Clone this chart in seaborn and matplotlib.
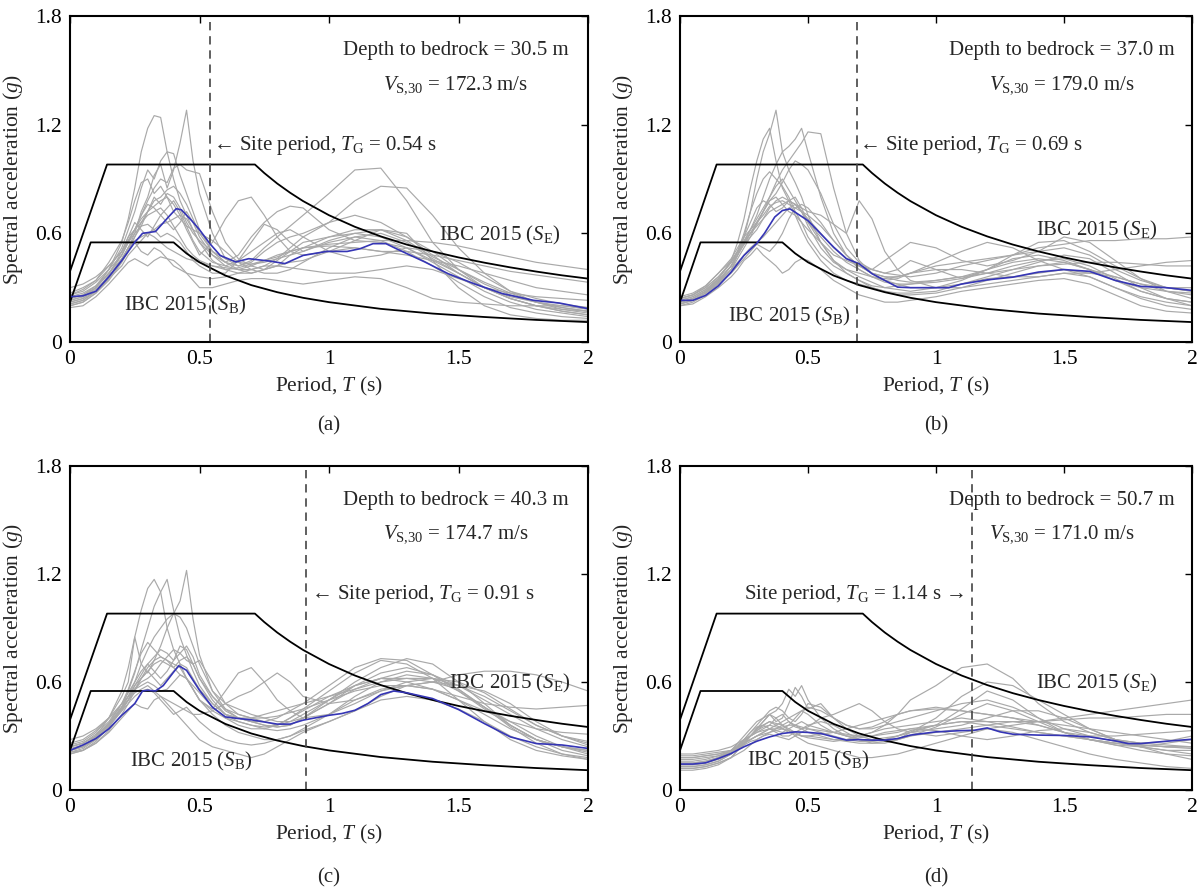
import numpy as np
import pandas as pd
import matplotlib
matplotlib.use("Agg")
import matplotlib.pyplot as plt
import seaborn as sns

# ---------------- data ----------------
T_GRID = [0, 0.05, 0.1, 0.15, 0.2, 0.225, 0.25, 0.275, 0.3, 0.325, 0.35, 0.375, 0.4,
          0.425, 0.45, 0.475, 0.5, 0.55, 0.6, 0.65, 0.7, 0.75, 0.8, 0.85, 0.9, 1.0,
          1.1, 1.2, 1.3, 1.4, 1.5, 1.6, 1.7, 1.8, 1.9, 2.0]

GREY_A = [
    [0.22,0.24,0.30,0.40,0.55,0.68,0.85,1.05,1.18,1.25,1.24,1.05,0.90,0.78,0.70,0.62,0.55,0.48,0.44,0.42,0.45,0.52,0.58,0.64,0.70,0.82,0.95,0.96,0.78,0.55,0.40,0.30,0.24,0.20,0.17,0.15],
    [0.20,0.22,0.27,0.35,0.45,0.52,0.60,0.72,0.80,0.92,0.98,0.85,0.95,1.10,1.28,1.00,0.82,0.60,0.46,0.42,0.44,0.50,0.55,0.58,0.60,0.66,0.78,0.86,0.85,0.70,0.52,0.38,0.28,0.22,0.18,0.16],
    [0.24,0.26,0.31,0.40,0.52,0.62,0.72,0.85,0.95,0.90,1.00,1.05,1.04,0.92,0.82,0.72,0.62,0.50,0.44,0.48,0.58,0.66,0.72,0.75,0.74,0.62,0.56,0.55,0.52,0.45,0.38,0.30,0.25,0.22,0.20,0.18],
    [0.26,0.28,0.33,0.40,0.48,0.56,0.62,0.70,0.78,0.85,0.90,0.88,0.96,0.98,0.95,0.94,0.93,0.72,0.55,0.46,0.42,0.40,0.42,0.48,0.52,0.58,0.60,0.62,0.58,0.50,0.40,0.32,0.26,0.22,0.19,0.17],
    [0.23,0.25,0.29,0.36,0.45,0.52,0.58,0.66,0.72,0.78,0.80,0.84,0.86,0.82,0.76,0.68,0.60,0.50,0.44,0.40,0.38,0.40,0.45,0.50,0.55,0.58,0.62,0.62,0.56,0.47,0.40,0.33,0.27,0.22,0.19,0.17],
    [0.27,0.30,0.34,0.42,0.50,0.58,0.62,0.68,0.72,0.75,0.78,0.80,0.76,0.70,0.62,0.55,0.48,0.55,0.68,0.78,0.80,0.70,0.58,0.50,0.48,0.50,0.52,0.50,0.48,0.45,0.42,0.38,0.34,0.30,0.28,0.26],
    [0.30,0.32,0.36,0.42,0.50,0.56,0.62,0.66,0.70,0.72,0.74,0.70,0.64,0.58,0.52,0.48,0.45,0.42,0.40,0.41,0.43,0.45,0.47,0.50,0.52,0.54,0.55,0.56,0.56,0.55,0.53,0.50,0.47,0.44,0.42,0.40],
    [0.25,0.27,0.31,0.38,0.46,0.52,0.56,0.58,0.60,0.58,0.55,0.52,0.50,0.48,0.46,0.45,0.44,0.42,0.41,0.40,0.42,0.45,0.48,0.50,0.52,0.53,0.52,0.50,0.50,0.48,0.45,0.42,0.39,0.37,0.35,0.33],
    [0.21,0.23,0.28,0.36,0.46,0.52,0.55,0.50,0.48,0.52,0.50,0.46,0.42,0.40,0.38,0.37,0.36,0.35,0.36,0.38,0.40,0.42,0.42,0.41,0.40,0.38,0.38,0.40,0.42,0.40,0.35,0.30,0.27,0.25,0.24,0.23],
    [0.19,0.20,0.25,0.32,0.40,0.44,0.46,0.44,0.42,0.45,0.47,0.46,0.45,0.42,0.38,0.34,0.30,0.30,0.32,0.34,0.35,0.35,0.34,0.33,0.32,0.34,0.36,0.35,0.30,0.24,0.22,0.21,0.20,0.20,0.20,0.19],
    [0.22,0.24,0.28,0.35,0.42,0.48,0.52,0.56,0.60,0.62,0.65,0.66,0.68,0.70,0.68,0.62,0.55,0.45,0.40,0.38,0.38,0.40,0.42,0.44,0.45,0.50,0.56,0.62,0.60,0.45,0.30,0.20,0.15,0.13,0.12,0.12],
    [0.24,0.26,0.30,0.38,0.48,0.55,0.60,0.64,0.65,0.62,0.58,0.60,0.58,0.55,0.50,0.45,0.42,0.38,0.38,0.45,0.55,0.65,0.62,0.55,0.50,0.55,0.58,0.56,0.50,0.42,0.33,0.25,0.19,0.16,0.14,0.13],
    [0.26,0.29,0.34,0.44,0.56,0.66,0.78,0.88,0.90,0.82,0.86,0.80,0.72,0.68,0.64,0.62,0.60,0.56,0.50,0.44,0.40,0.38,0.38,0.40,0.44,0.52,0.58,0.60,0.55,0.46,0.38,0.30,0.24,0.20,0.17,0.15],
    [0.20,0.22,0.27,0.34,0.44,0.50,0.58,0.64,0.72,0.80,0.76,0.82,0.80,0.74,0.66,0.60,0.56,0.50,0.46,0.44,0.43,0.44,0.46,0.48,0.50,0.56,0.60,0.58,0.52,0.44,0.36,0.28,0.22,0.18,0.16,0.14],
    [0.23,0.25,0.30,0.38,0.48,0.55,0.62,0.70,0.76,0.74,0.70,0.74,0.78,0.72,0.64,0.56,0.50,0.44,0.42,0.45,0.50,0.55,0.60,0.62,0.58,0.50,0.46,0.48,0.52,0.50,0.44,0.36,0.28,0.24,0.21,0.19],
    [0.21,0.23,0.28,0.37,0.50,0.58,0.66,0.62,0.58,0.64,0.70,0.66,0.62,0.66,0.72,0.66,0.58,0.48,0.42,0.40,0.40,0.42,0.46,0.52,0.58,0.66,0.70,0.66,0.58,0.48,0.38,0.30,0.24,0.20,0.18,0.17],
]

GREY_B = [
    [0.22,0.24,0.28,0.35,0.45,0.55,0.68,0.85,1.00,1.12,1.18,1.00,0.85,0.78,0.70,0.62,0.55,0.45,0.38,0.34,0.32,0.30,0.28,0.27,0.27,0.28,0.32,0.35,0.36,0.38,0.40,0.36,0.30,0.25,0.22,0.20],
    [0.20,0.22,0.26,0.32,0.40,0.48,0.58,0.72,0.90,1.05,1.15,1.28,1.05,0.95,0.88,0.80,0.70,0.55,0.45,0.38,0.34,0.30,0.28,0.26,0.26,0.27,0.30,0.34,0.38,0.42,0.44,0.40,0.34,0.28,0.24,0.22],
    [0.24,0.26,0.30,0.36,0.44,0.50,0.55,0.62,0.70,0.80,0.90,0.98,1.05,1.08,1.12,1.18,1.05,0.80,0.60,0.48,0.40,0.36,0.33,0.32,0.32,0.33,0.35,0.38,0.42,0.45,0.46,0.42,0.35,0.28,0.24,0.22],
    [0.21,0.23,0.27,0.33,0.40,0.46,0.52,0.58,0.66,0.72,0.80,0.88,0.95,1.00,1.05,1.10,1.16,1.15,0.85,0.60,0.45,0.38,0.34,0.32,0.30,0.30,0.32,0.36,0.40,0.44,0.48,0.46,0.38,0.30,0.24,0.20],
    [0.23,0.25,0.29,0.34,0.42,0.48,0.55,0.60,0.65,0.72,0.78,0.82,0.88,0.95,1.00,0.98,0.95,0.82,0.65,0.52,0.44,0.40,0.38,0.40,0.45,0.40,0.35,0.40,0.48,0.55,0.56,0.50,0.42,0.35,0.30,0.28],
    [0.25,0.27,0.31,0.38,0.45,0.50,0.54,0.58,0.62,0.68,0.74,0.78,0.80,0.78,0.76,0.74,0.72,0.70,0.65,0.60,0.78,0.68,0.50,0.40,0.34,0.30,0.30,0.32,0.34,0.36,0.38,0.38,0.36,0.32,0.28,0.26],
    [0.22,0.24,0.28,0.34,0.42,0.48,0.54,0.60,0.66,0.70,0.75,0.77,0.78,0.76,0.74,0.72,0.68,0.60,0.52,0.46,0.42,0.40,0.38,0.37,0.36,0.38,0.42,0.45,0.48,0.52,0.54,0.56,0.56,0.57,0.57,0.58],
    [0.20,0.21,0.25,0.30,0.36,0.40,0.45,0.48,0.52,0.48,0.45,0.42,0.38,0.40,0.44,0.46,0.45,0.40,0.34,0.30,0.26,0.24,0.22,0.22,0.23,0.25,0.28,0.30,0.32,0.34,0.35,0.32,0.26,0.20,0.17,0.16],
    [0.24,0.26,0.31,0.38,0.46,0.52,0.58,0.62,0.66,0.72,0.78,0.80,0.76,0.72,0.70,0.66,0.62,0.55,0.48,0.45,0.42,0.40,0.45,0.50,0.55,0.52,0.45,0.42,0.45,0.50,0.58,0.55,0.45,0.35,0.28,0.24],
    [0.22,0.24,0.28,0.33,0.40,0.44,0.48,0.52,0.55,0.58,0.62,0.66,0.70,0.74,0.76,0.72,0.66,0.58,0.50,0.44,0.40,0.36,0.34,0.35,0.38,0.44,0.50,0.55,0.52,0.45,0.40,0.38,0.40,0.42,0.44,0.45],
    [0.23,0.25,0.29,0.35,0.44,0.50,0.58,0.66,0.74,0.78,0.76,0.72,0.74,0.78,0.80,0.74,0.66,0.55,0.45,0.40,0.36,0.33,0.30,0.29,0.28,0.30,0.34,0.40,0.46,0.48,0.45,0.40,0.34,0.30,0.28,0.27],
    [0.21,0.23,0.27,0.33,0.42,0.50,0.60,0.72,0.82,0.90,0.94,0.90,0.86,0.80,0.72,0.66,0.58,0.48,0.42,0.38,0.34,0.31,0.30,0.31,0.32,0.34,0.36,0.38,0.40,0.42,0.43,0.44,0.44,0.43,0.42,0.42],
    [0.22,0.24,0.28,0.34,0.42,0.48,0.54,0.60,0.64,0.68,0.72,0.74,0.76,0.78,0.76,0.72,0.70,0.64,0.56,0.48,0.42,0.38,0.36,0.36,0.38,0.40,0.40,0.38,0.36,0.36,0.38,0.36,0.30,0.24,0.20,0.18],
    [0.24,0.26,0.30,0.36,0.44,0.50,0.56,0.62,0.68,0.74,0.80,0.86,0.90,0.84,0.78,0.72,0.64,0.52,0.44,0.40,0.38,0.36,0.35,0.36,0.38,0.42,0.44,0.46,0.48,0.50,0.52,0.48,0.40,0.34,0.30,0.28],
    [0.21,0.23,0.27,0.32,0.38,0.42,0.46,0.50,0.54,0.52,0.50,0.54,0.60,0.68,0.74,0.76,0.74,0.66,0.56,0.48,0.42,0.38,0.36,0.34,0.33,0.34,0.36,0.40,0.44,0.46,0.44,0.40,0.36,0.32,0.30,0.30],
]

GREY_C = [
    [0.22,0.24,0.30,0.40,0.55,0.68,0.85,1.00,1.12,1.17,1.10,0.90,0.78,0.70,0.62,0.56,0.50,0.44,0.40,0.38,0.36,0.35,0.36,0.40,0.45,0.55,0.65,0.72,0.70,0.62,0.50,0.38,0.28,0.22,0.19,0.17],
    [0.20,0.22,0.27,0.35,0.46,0.55,0.65,0.78,0.90,1.02,1.10,1.17,1.00,0.85,0.75,0.66,0.58,0.48,0.42,0.40,0.38,0.38,0.40,0.44,0.48,0.58,0.68,0.73,0.72,0.64,0.55,0.45,0.36,0.28,0.24,0.22],
    [0.24,0.26,0.31,0.38,0.48,0.54,0.60,0.70,0.78,0.85,0.90,0.95,0.98,1.05,1.22,0.95,0.75,0.55,0.45,0.40,0.38,0.36,0.35,0.36,0.40,0.50,0.60,0.68,0.73,0.70,0.60,0.48,0.36,0.28,0.24,0.21],
    [0.25,0.27,0.32,0.40,0.52,0.60,0.85,0.70,0.65,0.72,0.80,0.90,0.98,0.96,0.90,0.80,0.70,0.55,0.48,0.45,0.42,0.40,0.38,0.38,0.40,0.48,0.58,0.65,0.68,0.64,0.58,0.50,0.42,0.34,0.28,0.24],
    [0.22,0.24,0.29,0.36,0.45,0.50,0.56,0.60,0.62,0.65,0.70,0.74,0.78,0.76,0.72,0.70,0.72,0.60,0.48,0.42,0.40,0.38,0.36,0.38,0.42,0.50,0.58,0.62,0.62,0.60,0.58,0.55,0.48,0.38,0.30,0.25],
    [0.26,0.28,0.33,0.40,0.48,0.52,0.56,0.58,0.60,0.58,0.55,0.56,0.60,0.64,0.62,0.56,0.50,0.45,0.55,0.65,0.68,0.60,0.50,0.44,0.40,0.42,0.48,0.55,0.60,0.62,0.60,0.54,0.45,0.36,0.30,0.26],
    [0.28,0.30,0.34,0.40,0.46,0.50,0.54,0.56,0.58,0.55,0.52,0.50,0.48,0.46,0.44,0.42,0.42,0.44,0.48,0.52,0.55,0.60,0.65,0.60,0.52,0.48,0.50,0.55,0.58,0.60,0.64,0.66,0.66,0.64,0.60,0.55],
    [0.21,0.22,0.26,0.32,0.40,0.44,0.48,0.46,0.45,0.50,0.52,0.48,0.44,0.40,0.36,0.32,0.28,0.24,0.22,0.20,0.18,0.20,0.24,0.28,0.32,0.38,0.44,0.50,0.52,0.50,0.45,0.38,0.30,0.24,0.20,0.18],
    [0.23,0.25,0.29,0.36,0.44,0.48,0.52,0.55,0.56,0.54,0.50,0.46,0.42,0.44,0.46,0.42,0.38,0.32,0.28,0.26,0.25,0.26,0.28,0.30,0.34,0.42,0.52,0.60,0.64,0.62,0.55,0.46,0.38,0.30,0.24,0.20],
    [0.24,0.26,0.30,0.37,0.46,0.52,0.58,0.62,0.66,0.70,0.72,0.70,0.68,0.72,0.74,0.70,0.62,0.52,0.45,0.42,0.40,0.40,0.41,0.43,0.45,0.50,0.55,0.58,0.58,0.56,0.52,0.48,0.46,0.45,0.46,0.47],
    [0.20,0.22,0.26,0.33,0.42,0.48,0.55,0.62,0.68,0.72,0.74,0.72,0.70,0.68,0.62,0.56,0.50,0.42,0.36,0.32,0.30,0.28,0.28,0.30,0.33,0.38,0.44,0.52,0.58,0.60,0.56,0.46,0.35,0.26,0.20,0.17],
    [0.22,0.24,0.28,0.35,0.44,0.50,0.58,0.64,0.70,0.66,0.62,0.66,0.72,0.80,0.78,0.70,0.62,0.50,0.42,0.38,0.36,0.34,0.33,0.34,0.36,0.42,0.50,0.56,0.58,0.56,0.50,0.42,0.34,0.28,0.24,0.22],
    [0.21,0.23,0.28,0.36,0.46,0.52,0.60,0.66,0.70,0.74,0.78,0.76,0.72,0.76,0.80,0.74,0.64,0.52,0.44,0.40,0.38,0.36,0.35,0.36,0.40,0.48,0.56,0.62,0.66,0.64,0.56,0.46,0.36,0.28,0.22,0.19],
    [0.24,0.26,0.30,0.37,0.45,0.50,0.56,0.62,0.66,0.62,0.58,0.62,0.66,0.70,0.68,0.62,0.56,0.48,0.42,0.40,0.40,0.42,0.44,0.46,0.48,0.52,0.56,0.60,0.62,0.62,0.58,0.52,0.44,0.36,0.30,0.27],
    [0.22,0.24,0.29,0.37,0.48,0.56,0.66,0.76,0.82,0.78,0.74,0.72,0.68,0.64,0.62,0.58,0.54,0.46,0.40,0.36,0.34,0.34,0.36,0.40,0.44,0.52,0.58,0.62,0.60,0.56,0.50,0.44,0.38,0.34,0.32,0.31],
]

GREY_D = [
    [0.14,0.14,0.15,0.18,0.22,0.26,0.30,0.34,0.38,0.40,0.42,0.44,0.48,0.56,0.52,0.58,0.50,0.40,0.34,0.30,0.28,0.28,0.29,0.30,0.32,0.36,0.45,0.55,0.50,0.40,0.32,0.28,0.26,0.25,0.24,0.24],
    [0.12,0.12,0.13,0.15,0.18,0.22,0.25,0.30,0.34,0.38,0.42,0.38,0.40,0.48,0.57,0.52,0.45,0.48,0.40,0.34,0.30,0.28,0.27,0.28,0.30,0.35,0.42,0.48,0.44,0.38,0.32,0.28,0.25,0.22,0.20,0.19],
    [0.16,0.16,0.17,0.19,0.22,0.25,0.28,0.30,0.32,0.34,0.36,0.40,0.42,0.38,0.35,0.34,0.35,0.40,0.42,0.45,0.48,0.44,0.38,0.34,0.32,0.30,0.32,0.34,0.36,0.38,0.40,0.42,0.44,0.46,0.48,0.50],
    [0.18,0.18,0.19,0.20,0.22,0.24,0.26,0.28,0.30,0.32,0.34,0.33,0.32,0.34,0.36,0.38,0.36,0.34,0.32,0.30,0.30,0.32,0.36,0.42,0.50,0.58,0.68,0.70,0.62,0.48,0.38,0.32,0.28,0.26,0.25,0.24],
    [0.13,0.13,0.14,0.16,0.20,0.24,0.28,0.32,0.35,0.36,0.34,0.32,0.30,0.30,0.32,0.34,0.36,0.38,0.36,0.32,0.28,0.26,0.26,0.28,0.32,0.40,0.52,0.60,0.58,0.50,0.42,0.34,0.28,0.24,0.20,0.17],
    [0.20,0.20,0.21,0.22,0.24,0.26,0.28,0.30,0.32,0.33,0.34,0.34,0.35,0.36,0.36,0.35,0.34,0.33,0.32,0.31,0.30,0.30,0.31,0.32,0.34,0.36,0.38,0.38,0.38,0.38,0.39,0.40,0.40,0.41,0.42,0.42],
    [0.11,0.11,0.12,0.14,0.18,0.22,0.26,0.30,0.34,0.38,0.42,0.40,0.36,0.33,0.30,0.28,0.26,0.24,0.22,0.20,0.18,0.18,0.19,0.20,0.22,0.26,0.30,0.34,0.32,0.28,0.24,0.20,0.17,0.15,0.13,0.12],
    [0.15,0.15,0.16,0.18,0.21,0.24,0.26,0.28,0.30,0.32,0.34,0.36,0.38,0.40,0.42,0.44,0.46,0.44,0.40,0.36,0.34,0.35,0.38,0.42,0.44,0.45,0.44,0.42,0.40,0.36,0.32,0.30,0.30,0.31,0.32,0.33],
    [0.12,0.12,0.13,0.15,0.18,0.20,0.22,0.25,0.28,0.30,0.32,0.34,0.36,0.38,0.36,0.34,0.32,0.30,0.28,0.27,0.26,0.26,0.27,0.28,0.30,0.32,0.34,0.36,0.38,0.36,0.32,0.28,0.25,0.24,0.26,0.28],
    [0.17,0.17,0.18,0.19,0.21,0.23,0.25,0.27,0.28,0.30,0.31,0.30,0.29,0.28,0.30,0.32,0.34,0.32,0.30,0.28,0.27,0.27,0.28,0.30,0.32,0.34,0.36,0.40,0.44,0.44,0.40,0.34,0.28,0.24,0.22,0.22],
    [0.14,0.14,0.15,0.17,0.20,0.23,0.26,0.30,0.34,0.36,0.38,0.37,0.36,0.34,0.32,0.30,0.30,0.29,0.28,0.28,0.29,0.30,0.32,0.33,0.34,0.33,0.30,0.28,0.30,0.33,0.34,0.32,0.28,0.26,0.27,0.30],
    [0.19,0.19,0.20,0.21,0.22,0.24,0.26,0.28,0.30,0.31,0.32,0.33,0.34,0.33,0.32,0.30,0.29,0.28,0.27,0.28,0.30,0.32,0.34,0.35,0.36,0.38,0.40,0.38,0.35,0.32,0.30,0.28,0.26,0.25,0.24,0.23],
    [0.13,0.13,0.14,0.16,0.20,0.24,0.28,0.32,0.36,0.40,0.44,0.46,0.44,0.40,0.38,0.42,0.48,0.46,0.40,0.36,0.34,0.34,0.36,0.38,0.40,0.44,0.48,0.50,0.46,0.40,0.34,0.30,0.27,0.25,0.24,0.24],
    [0.18,0.18,0.19,0.20,0.22,0.24,0.27,0.30,0.33,0.36,0.38,0.36,0.34,0.32,0.31,0.30,0.30,0.31,0.32,0.34,0.36,0.38,0.40,0.42,0.44,0.46,0.44,0.42,0.40,0.38,0.36,0.34,0.32,0.30,0.28,0.26],
    [0.15,0.15,0.16,0.18,0.21,0.24,0.27,0.30,0.33,0.35,0.36,0.35,0.34,0.36,0.40,0.44,0.42,0.36,0.32,0.30,0.28,0.27,0.28,0.30,0.33,0.36,0.38,0.36,0.34,0.32,0.30,0.28,0.26,0.24,0.22,0.20],
]

MEAN_A_T = [0,0.05,0.1,0.15,0.2,0.25,0.28,0.33,0.38,0.41,0.43,0.47,0.5,0.54,0.58,0.64,0.69,0.77,0.83,0.9,0.99,1.07,1.12,1.17,1.22,1.26,1.37,1.46,1.56,1.67,1.79,1.89,2.0]
MEAN_A = [0.25,0.255,0.28,0.36,0.45,0.55,0.60,0.61,0.69,0.736,0.73,0.67,0.62,0.543,0.478,0.442,0.46,0.447,0.433,0.478,0.50,0.50,0.515,0.543,0.543,0.515,0.442,0.377,0.322,0.267,0.23,0.215,0.184]

MEAN_B_T = [0,0.05,0.1,0.15,0.2,0.25,0.3,0.33,0.37,0.4,0.43,0.46,0.5,0.55,0.6,0.65,0.7,0.75,0.8,0.85,0.9,1.0,1.05,1.1,1.2,1.3,1.4,1.5,1.6,1.7,1.8,1.9,2.0]
MEAN_B = [0.23,0.23,0.257,0.31,0.386,0.478,0.545,0.60,0.69,0.726,0.735,0.707,0.67,0.597,0.524,0.46,0.432,0.377,0.34,0.303,0.30,0.30,0.30,0.32,0.343,0.358,0.386,0.40,0.39,0.34,0.307,0.30,0.285]

MEAN_C_T = [0,0.05,0.1,0.15,0.2,0.25,0.28,0.3,0.33,0.36,0.4,0.42,0.45,0.5,0.55,0.6,0.65,0.7,0.75,0.8,0.85,0.9,1.0,1.05,1.1,1.15,1.2,1.25,1.3,1.4,1.5,1.6,1.7,1.8,1.9,2.0]
MEAN_C = [0.22,0.25,0.286,0.34,0.415,0.48,0.55,0.554,0.55,0.58,0.655,0.69,0.665,0.554,0.46,0.406,0.397,0.39,0.378,0.366,0.366,0.388,0.415,0.425,0.443,0.48,0.53,0.55,0.54,0.508,0.447,0.369,0.295,0.258,0.25,0.231]

MEAN_D_T = [0,0.05,0.1,0.15,0.2,0.25,0.3,0.35,0.4,0.45,0.5,0.55,0.6,0.65,0.7,0.75,0.8,0.85,0.9,1.0,1.1,1.15,1.2,1.25,1.3,1.4,1.5,1.6,1.7,1.75,1.8,1.9,2.0]
MEAN_D = [0.144,0.144,0.151,0.175,0.203,0.24,0.271,0.295,0.314,0.323,0.32,0.314,0.295,0.277,0.28,0.277,0.277,0.286,0.305,0.323,0.33,0.332,0.345,0.323,0.31,0.305,0.303,0.295,0.273,0.258,0.258,0.271,0.282]

# IBC 2015 design spectra
SE_T = [0, 0.143, 0.714, 0.75, 0.8, 0.85, 0.9, 1.0, 1.1, 1.2, 1.3, 1.4, 1.5, 1.6, 1.7, 1.8, 1.9, 2.0]
SE_SA = [0.39, 0.98, 0.98, 0.933, 0.875, 0.824, 0.778, 0.70, 0.636, 0.583, 0.538, 0.50, 0.467, 0.438, 0.412, 0.389, 0.368, 0.35]
SB_T = [0, 0.08, 0.40, 0.45, 0.5, 0.6, 0.7, 0.8, 0.9, 1.0, 1.2, 1.4, 1.6, 1.8, 2.0]
SB_SA = [0.22, 0.55, 0.55, 0.489, 0.44, 0.367, 0.314, 0.275, 0.244, 0.22, 0.183, 0.157, 0.138, 0.122, 0.11]

SITE_PERIODS = [0.54, 0.69, 0.91, 1.14]
DEPTHS = ["30.5", "37.0", "40.3", "50.7"]
VS30 = ["172.3", "179.0", "174.7", "171.0"]
PANEL_LABELS = ["(a)", "(b)", "(c)", "(d)"]

# ---------------- style ----------------
sns.set_theme(style="white")
SERIF = ["Liberation Serif", "DejaVu Serif"]
plt.rcParams["font.family"] = SERIF
plt.rcParams["mathtext.fontset"] = "custom"
plt.rcParams["mathtext.rm"] = "Liberation Serif"
plt.rcParams["mathtext.it"] = "Liberation Serif:italic"
plt.rcParams["mathtext.bf"] = "Liberation Serif:bold"

fig = plt.figure(figsize=(12.02, 8.89), dpi=100)

W, H = 1202, 889
rects = [
    [70 / W, 1 - 342 / H, 518 / W, 326 / H],
    [680 / W, 1 - 342 / H, 512 / W, 326 / H],
    [70 / W, 1 - 790 / H, 518 / W, 324 / H],
    [680 / W, 1 - 790 / H, 512 / W, 324 / H],
]
label_y = [1 - 426 / H, 1 - 426 / H, 1 - 878 / H, 1 - 878 / H]

greys = [GREY_A, GREY_B, GREY_C, GREY_D]
means = [(MEAN_A_T, MEAN_A), (MEAN_B_T, MEAN_B), (MEAN_C_T, MEAN_C), (MEAN_D_T, MEAN_D)]

site_txt_pos = [(0.554, "left"), (0.70, "left"), (0.93, "left"), (1.108, "right")]
se_pos = [(1.66, 0.59), (1.63, 0.615), (1.70, 0.59), (1.63, 0.59)]
sb_pos = [(0.446, 0.20), (0.426, 0.14), (0.47, 0.157), (0.50, 0.166)]

FS = 15

for i in range(4):
    ax = fig.add_axes(rects[i])
    rows = []
    for k, curve in enumerate(greys[i]):
        for t, v in zip(T_GRID, curve):
            rows.append((k, t, v))
    df = pd.DataFrame(rows, columns=["rec", "T", "Sa"])
    sns.lineplot(data=df, x="T", y="Sa", units="rec", estimator=None,
                 color="#a9a9a9", linewidth=0.85, ax=ax, legend=False)
    sns.lineplot(x=SE_T, y=SE_SA, color="black", linewidth=1.3, ax=ax, estimator=None)
    sns.lineplot(x=SB_T, y=SB_SA, color="black", linewidth=1.3, ax=ax, estimator=None)
    mt, mv = means[i]
    sns.lineplot(x=mt, y=mv, color="#3535b5", linewidth=1.2, ax=ax, estimator=None)
    ax.axvline(SITE_PERIODS[i], color="#444444", linestyle=(0, (5, 3.5)), linewidth=1.2)

    ax.set_xlim(0, 2)
    ax.set_ylim(0, 1.8)
    ax.set_xticks([0, 0.5, 1, 1.5, 2], ["0", "0.5", "1", "1.5", "2"])
    ax.set_yticks([0, 0.6, 1.2, 1.8], ["0", "0.6", "1.2", "1.8"])
    ax.tick_params(direction="in", top=True, right=True, length=5, width=1,
                   labelsize=FS + 0.5, colors="black", pad=6)
    for s in ax.spines.values():
        s.set_color("black")
        s.set_linewidth(1.5)
    ax.set_xlabel("Period, $T$ (s)", fontsize=FS + 0.5, labelpad=4)
    ax.set_ylabel("Spectral acceleration ($g$)", fontsize=FS + 0.5, labelpad=7)

    ax.text(1.49, 1.61, f"Depth to bedrock = {DEPTHS[i]} m", ha="center", va="center", fontsize=FS)
    ax.text(1.49, 1.42, "$V_{\\mathrm{S{,}30}}$ = " + VS30[i] + " m/s", ha="center", va="center", fontsize=FS)
    sx, sha = site_txt_pos[i]
    if sha == "left":
        s = "\u2190 Site period, $T_{\\mathrm{G}}$ = " + f"{SITE_PERIODS[i]:.2f} s"
    else:
        s = "Site period, $T_{\\mathrm{G}}$ = " + f"{SITE_PERIODS[i]:.2f} s \u2192"
    ax.text(sx, 1.085, s, ha=sha, va="center", fontsize=FS)
    ax.text(se_pos[i][0], se_pos[i][1], "IBC 2015 ($S_{\\mathrm{E}}$)", ha="center", va="center", fontsize=FS)
    ax.text(sb_pos[i][0], sb_pos[i][1], "IBC 2015 ($S_{\\mathrm{B}}$)", ha="center", va="center", fontsize=FS)

    cx = rects[i][0] + rects[i][2] / 2
    fig.text(cx, label_y[i], PANEL_LABELS[i], ha="center", va="center", fontsize=FS)

fig.savefig("out.png", dpi=100)
